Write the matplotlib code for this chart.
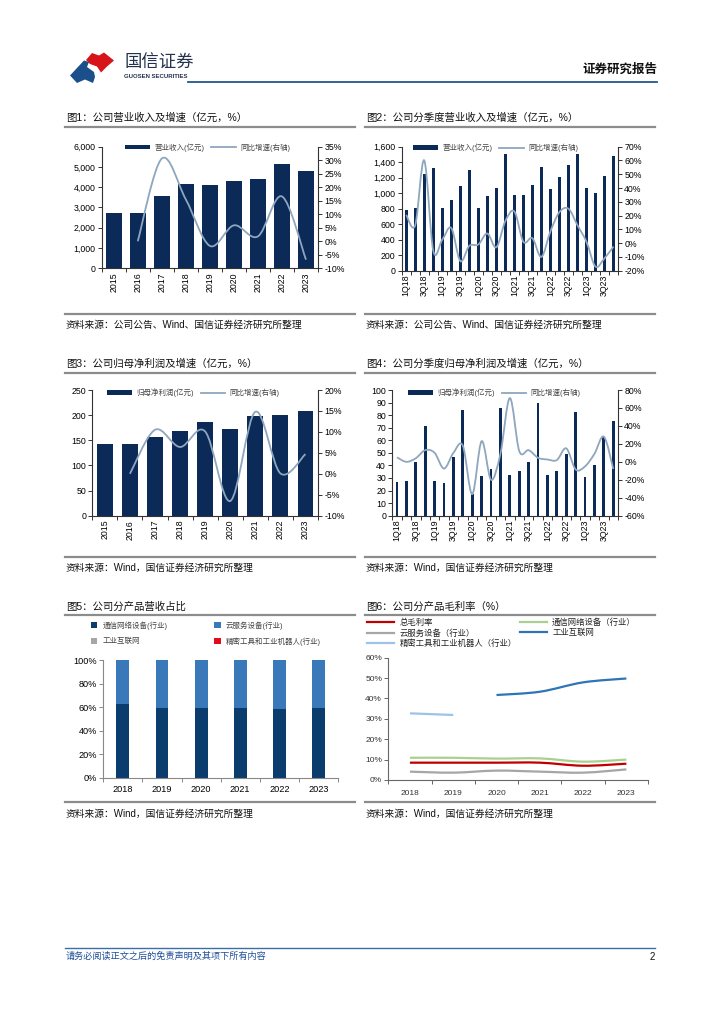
import numpy as np
import matplotlib
matplotlib.use("Agg")
import matplotlib.pyplot as plt
import matplotlib.patches as mpatches
from matplotlib.lines import Line2D
from matplotlib.path import Path
from matplotlib.ticker import FuncFormatter, MultipleLocator, FixedLocator

plt.rcParams['font.family'] = ['Liberation Sans', 'Noto Sans CJK SC', 'DejaVu Sans']
plt.rcParams['axes.unicode_minus'] = False

# ---------------- datos ----------------
anios = ['2015', '2016', '2017', '2018', '2019', '2020', '2021', '2022', '2023']
ingresos = [2712, 2712, 3567, 4159, 4093, 4323, 4422, 5145, 4784]
crec_ingresos = [np.nan, 0.0, 30.6, 15.5, -1.7, 5.9, 1.8, 16.6, -6.8]

trimestres = ['1Q18', '2Q18', '3Q18', '4Q18', '1Q19', '2Q19', '3Q19', '4Q19',
              '1Q20', '2Q20', '3Q20', '4Q20', '1Q21', '2Q21', '3Q21', '4Q21',
              '1Q22', '2Q22', '3Q22', '4Q22', '1Q23', '2Q23', '3Q23', '4Q23']
ingresos_trim = [777, 815, 1245, 1322, 807, 906, 1099, 1300, 807, 966, 1064, 1502,
                 978, 978, 1107, 1343, 1056, 1206, 1365, 1506, 1064, 1009, 1227, 1485]
crec_ingresos_trim = [20.5, 13.0, 60.0, -5.5, 2.5, 11.0, -13.0, -2.0, -1.0, 7.0, -3.0, 16.0,
                      23.0, 1.0, 3.6, -10.0, 8.5, 22.5, 25.0, 13.0, 1.0, -17.0, -11.0, -2.5]

beneficio = [142, 142, 157, 169, 186, 173, 198, 200, 209]
crec_beneficio = [np.nan, 0.0, 10.5, 6.4, 10.1, -6.5, 14.8, 0.1, 4.7]

beneficio_trim = [26.5, 28.0, 43.0, 71.0, 28.0, 26.0, 47.0, 84.0, 17.5, 31.6, 37.0, 86.0,
                  32.0, 35.5, 42.4, 90.0, 32.6, 35.8, 48.8, 82.8, 31.0, 40.3, 62.9, 75.6]
crec_beneficio_trim = [5.0, 0.0, 4.0, 13.0, 10.0, -7.5, 10.0, 18.0, -36.0, 23.0, -20.0, 9.0,
                       71.0, 12.0, 13.0, 4.5, 2.6, 2.0, 15.0, -8.6, -5.0, 9.0, 28.0, -8.0]

anios_prod = ['2018', '2019', '2020', '2021', '2022', '2023']
peso_comunicacion = [62.5, 59.5, 59.2, 59.2, 58.0, 59.2]
peso_nube = [37.1, 40.1, 40.5, 40.5, 41.7, 40.5]
peso_industrial = [0.0, 0.0, 0.3, 0.3, 0.3, 0.3]
peso_precision = [0.4, 0.4, 0.0, 0.0, 0.0, 0.0]

margen_total = [8.5, 8.5, 8.5, 8.5, 7.0, 8.0]
margen_comunicacion = [10.9, 10.9, 10.5, 10.6, 9.0, 10.0]
margen_nube = [4.1, 3.6, 4.6, 4.1, 3.6, 5.2]
margen_industrial = [np.nan, np.nan, 41.7, 43.3, 47.9, 49.8]
margen_precision = [32.7, 31.9, np.nan, np.nan, np.nan, np.nan]

# ---------------- estilos ----------------
W, H = 724, 1024
AZUL_BARRA = '#0c2a58'
LINEA = '#8ea6be'
GRIS_EJE = '#333333'
TICK_FS = 6.3


def fx(x):
    return x / W


def fy(y):
    return 1 - y / H


def rect(x0, y0, x1, y1):
    return [fx(x0), fy(y1), (x1 - x0) / W, (y1 - y0) / H]


def ruta_suave(xs, ys):
    """Curva suavizada (tipo Excel) que pasa por los puntos dados."""
    pts = np.array([(x, y) for x, y in zip(xs, ys) if not np.isnan(y)], dtype=float)
    n = len(pts)
    verts = [pts[0]]
    codes = [Path.MOVETO]
    for i in range(n - 1):
        p_prev = pts[i - 1] if i > 0 else pts[i]
        p_next = pts[i + 2] if i + 2 < n else pts[i + 1]
        c1 = pts[i] + (pts[i + 1] - p_prev) / 6.0
        c2 = pts[i + 1] - (p_next - pts[i]) / 6.0
        verts += [c1, c2, pts[i + 1]]
        codes += [Path.CURVE4] * 3
    return Path(verts, codes)


def grafico_combo(caja, cats, barras, crec, lim_izq, paso_izq, fmt_izq,
                  lim_der, paso_der, ancho, cada=1):
    ax = fig.add_axes(caja)
    x = np.arange(len(cats))
    ax.bar(x, barras, width=ancho, color=AZUL_BARRA, zorder=2)
    ax.set_xlim(-0.5, len(cats) - 0.5)
    ax.set_ylim(*lim_izq)
    ax.yaxis.set_major_locator(MultipleLocator(paso_izq))
    ax.yaxis.set_major_formatter(FuncFormatter(fmt_izq))
    ax.set_xticks(x)
    ax.set_xticklabels([c if i % cada == 0 else '' for i, c in enumerate(cats)],
                       rotation=90, fontsize=TICK_FS)
    ax.xaxis.set_minor_locator(FixedLocator(np.arange(-0.5, len(cats), 1.0)))
    ax.tick_params(axis='x', which='major', length=0, pad=3)
    ax.tick_params(axis='x', which='minor', length=3, width=0.7, color=GRIS_EJE)
    ax.tick_params(axis='y', labelsize=TICK_FS, length=3, width=0.7,
                   color=GRIS_EJE, pad=1.5)
    ax.tick_params(axis='x', labelsize=TICK_FS)
    for s in ['top', 'right']:
        ax.spines[s].set_visible(False)
    for s in ['left', 'bottom']:
        ax.spines[s].set_color(GRIS_EJE)
        ax.spines[s].set_linewidth(0.8)

    ax2 = ax.twinx()
    ax2.set_ylim(*lim_der)
    ax2.yaxis.set_major_locator(MultipleLocator(paso_der))
    ax2.yaxis.set_major_formatter(FuncFormatter(lambda v, p: f'{v:.0f}%'))
    ax2.tick_params(axis='y', labelsize=TICK_FS, length=3, width=0.7,
                    color=GRIS_EJE, pad=1.5)
    for s in ['top', 'left', 'bottom']:
        ax2.spines[s].set_visible(False)
    ax2.spines['right'].set_color(GRIS_EJE)
    ax2.spines['right'].set_linewidth(0.8)
    ax2.add_patch(mpatches.PathPatch(ruta_suave(x, crec), facecolor='none',
                                     edgecolor=LINEA, lw=1.3, zorder=3))
    return ax, ax2


def leyenda_combo(etq_barra, etq_linea, x0, y0):
    handles = [mpatches.Patch(facecolor=AZUL_BARRA, edgecolor='none'),
               Line2D([], [], color=LINEA, lw=1.3)]
    fig.legend(handles, [etq_barra, etq_linea], loc='center left',
               bbox_to_anchor=(fx(x0), fy(y0)), ncol=2, frameon=False,
               fontsize=5.4, handlelength=3.3, handleheight=0.55,
               handletextpad=0.6, columnspacing=0.9, borderpad=0,
               borderaxespad=0, labelcolor='#444444')


def cabecera_panel(x0, x1, y_tit, y_lin, titulo, y_src_lin, y_src, fuente):
    fig.text(fx(x0 + 1), fy(y_tit), titulo, fontsize=7.5, va='center', ha='left',
             color='#111111')
    fig.add_artist(Line2D([fx(x0), fx(x1)], [fy(y_lin), fy(y_lin)], color='#8c8c8c',
                          lw=1.6, transform=fig.transFigure))
    fig.add_artist(Line2D([fx(x0), fx(x1)], [fy(y_src_lin), fy(y_src_lin)],
                          color='#8c8c8c', lw=1.6, transform=fig.transFigure))
    fig.text(fx(x0 + 1), fy(y_src), fuente, fontsize=7.0, va='center', ha='left',
             color='#111111')


fig = plt.figure(figsize=(W / 100, H / 100), dpi=100)

# ---------------- cabecera de la pagina ----------------
logo_rojo = [(86, 60), (92, 53), (99, 55.5), (104, 52.5), (114, 60.5), (107, 66.5),
             (101, 72.5), (97, 66.5), (90, 64)]
logo_azul = [(70, 75.5), (84, 60.5), (89, 62), (87, 67), (94, 72), (95, 77), (93, 83),
             (85, 79.5), (77, 83)]
fig.add_artist(mpatches.Polygon([(fx(a), fy(b)) for a, b in logo_rojo], closed=True,
                                facecolor='#d7141a', edgecolor='none',
                                transform=fig.transFigure))
fig.add_artist(mpatches.Polygon([(fx(a), fy(b)) for a, b in logo_azul], closed=True,
                                facecolor='#1b4f8c', edgecolor='none',
                                transform=fig.transFigure))
fig.text(fx(124), fy(63), '国信证券', fontsize=12.5, color='#25324d', va='center',
         ha='left')
fig.text(fx(124.5), fy(76.5), 'GUOSEN SECURITIES', fontsize=4.3, color='#25324d',
         va='center', ha='left', fontweight='bold')
fig.text(fx(657), fy(69.5), '证券研究报告', fontsize=9, fontweight='bold', va='center',
         ha='right', color='#111111')
fig.add_artist(Line2D([fx(188), fx(657)], [fy(81.8), fy(81.8)], color='#24558f', lw=1.3,
                      transform=fig.transFigure))

# ---------------- figura 1 ----------------
cabecera_panel(65, 355, 117.7, 126.7, '图1：公司营业收入及增速（亿元，%）',
               314, 324.5, '资料来源：公司公告、Wind、国信证券经济研究所整理')
grafico_combo(rect(101.7, 146.7, 318, 268.3), anios, ingresos, crec_ingresos,
              (0, 6000), 1000, lambda v, p: f'{v:,.0f}', (-10, 35), 5, 0.68)
leyenda_combo('营业收入(亿元)', '同比增速(右轴)', 125, 147.5)

# ---------------- figura 2 ----------------
cabecera_panel(365, 655, 117.7, 126.7, '图2：公司分季度营业收入及增速（亿元，%）',
               314, 324.5, '资料来源：公司公告、Wind、国信证券经济研究所整理')
grafico_combo(rect(401.7, 146.7, 618, 270.7), trimestres, ingresos_trim,
              crec_ingresos_trim, (0, 1600), 200, lambda v, p: f'{v:,.0f}',
              (-20, 70), 10, 0.33, cada=2)
leyenda_combo('营业收入(亿元)', '同比增速(右轴)', 413, 148)

# ---------------- figura 3 ----------------
cabecera_panel(65, 355, 363.3, 373.3, '图3：公司归母净利润及增速（亿元，%）',
               556.7, 568.3, '资料来源：Wind，国信证券经济研究所整理')
grafico_combo(rect(92.3, 390, 318, 515.7), anios, beneficio, crec_beneficio,
              (0, 250), 50, lambda v, p: f'{v:.0f}', (-10, 20), 5, 0.63)
leyenda_combo('归母净利润(亿元)', '同比增速(右轴)', 107, 392.7)

# ---------------- figura 4 ----------------
cabecera_panel(365, 655, 363.3, 373.3, '图4：公司分季度归母净利润及增速（亿元，%）',
               556.7, 568.3, '资料来源：Wind，国信证券经济研究所整理')
grafico_combo(rect(392.3, 390, 618, 515.7), trimestres, beneficio_trim,
              crec_beneficio_trim, (0, 100), 10, lambda v, p: f'{v:.0f}',
              (-60, 80), 20, 0.3, cada=2)
leyenda_combo('归母净利润(亿元)', '同比增速(右轴)', 408, 392.7)

# ---------------- figura 5 ----------------
cabecera_panel(65, 355, 606.7, 615, '图5：公司分产品营收占比',
               802.3, 814, '资料来源：Wind，国信证券经济研究所整理')
ax5 = fig.add_axes(rect(103.3, 660, 338, 777.7))
x5 = np.arange(len(anios_prod))
col5 = ['#0b3c6e', '#3a79b9', '#a6a6a6', '#e00b1c']
series5 = [peso_comunicacion, peso_nube, peso_industrial, peso_precision]
etq5 = ['通信网络设备(行业)', '云服务设备(行业)', '工业互联网', '精密工具和工业机器人(行业)']
base = np.zeros(len(anios_prod))
for vals, c in zip(series5, col5):
    ax5.bar(x5, vals, bottom=base, width=0.33, color=c, zorder=2)
    base = base + np.array(vals)
ax5.set_xlim(-0.5, len(anios_prod) - 0.5)
ax5.set_ylim(0, 100)
ax5.yaxis.set_major_locator(MultipleLocator(20))
ax5.yaxis.set_major_formatter(FuncFormatter(lambda v, p: f'{v:.0f}%'))
ax5.set_xticks(x5)
ax5.set_xticklabels(anios_prod)
ax5.xaxis.set_minor_locator(FixedLocator(np.arange(-0.5, len(anios_prod), 1.0)))
ax5.tick_params(axis='x', which='major', length=0, pad=5, labelsize=TICK_FS + 0.3)
ax5.tick_params(axis='x', which='minor', length=3, width=0.7, color='#888888')
ax5.tick_params(axis='y', labelsize=TICK_FS + 0.3, length=3, width=0.7,
                color='#888888', pad=1.5)
for s in ['top', 'right']:
    ax5.spines[s].set_visible(False)
for s in ['left', 'bottom']:
    ax5.spines[s].set_color('#888888')
    ax5.spines[s].set_linewidth(0.8)
orden5 = [0, 2, 1, 3]
fig.legend([mpatches.Patch(facecolor=col5[i]) for i in orden5], [etq5[i] for i in orden5],
           loc='upper left', bbox_to_anchor=(fx(91), fy(621.5)), ncol=2, frameon=False,
           fontsize=5.4, handlelength=0.85, handleheight=0.85, handletextpad=0.7,
           columnspacing=6.2, labelspacing=1.0, borderpad=0, borderaxespad=0,
           labelcolor='#444444')

# ---------------- figura 6 ----------------
cabecera_panel(365, 655, 606.7, 615, '图6：公司分产品毛利率（%）',
               802.3, 814, '资料来源：Wind，国信证券经济研究所整理')
ax6 = fig.add_axes(rect(388.3, 657.7, 648, 780))
x6 = np.arange(len(anios_prod))
series6 = [margen_total, margen_comunicacion, margen_nube, margen_industrial,
           margen_precision]
col6 = ['#c00000', '#a9d08e', '#a6a6a6', '#2e75b6', '#9dc3e6']
etq6 = ['总毛利率', '通信网络设备（行业）', '云服务设备（行业）', '工业互联网',
        '精密工具和工业机器人（行业）']
for vals, c in zip(series6, col6):
    ax6.add_patch(mpatches.PathPatch(ruta_suave(x6, vals), facecolor='none',
                                     edgecolor=c, lw=1.6, zorder=3))
ax6.set_xlim(-0.5, len(anios_prod) - 0.5)
ax6.set_ylim(0, 60)
ax6.yaxis.set_major_locator(MultipleLocator(10))
ax6.yaxis.set_major_formatter(FuncFormatter(lambda v, p: f'{v:.0f}%'))
ax6.set_xticks(x6)
ax6.set_xticklabels(anios_prod)
ax6.xaxis.set_minor_locator(FixedLocator(np.arange(-0.5, len(anios_prod), 1.0)))
ax6.tick_params(axis='x', which='major', length=0, pad=7, labelsize=TICK_FS - 0.3,
                labelcolor='#333333')
ax6.tick_params(axis='x', which='minor', length=3, width=0.7, color='#666666')
ax6.tick_params(axis='y', labelsize=TICK_FS - 0.3, length=3, width=0.7,
                color='#666666', pad=1.5, labelcolor='#333333')
for s in ['top', 'right']:
    ax6.spines[s].set_visible(False)
for s in ['left', 'bottom']:
    ax6.spines[s].set_color('#666666')
    ax6.spines[s].set_linewidth(0.8)
orden6 = [0, 2, 4, 1, 3]
fig.legend([Line2D([], [], color=col6[i], lw=1.6) for i in orden6],
           [etq6[i] for i in orden6], loc='upper left',
           bbox_to_anchor=(fx(367), fy(618.5)), ncol=2, frameon=False, fontsize=6.0,
           handlelength=3.3, handletextpad=0.6, columnspacing=0.35, labelspacing=0.22,
           borderpad=0, borderaxespad=0, labelcolor='#222222')

# ---------------- pie de pagina ----------------
fig.add_artist(Line2D([fx(65), fx(655)], [fy(948.3), fy(948.3)], color='#3d6ea6', lw=1.0,
                      transform=fig.transFigure))
fig.text(fx(66), fy(956.5), '请务必阅读正文之后的免责声明及其项下所有内容', fontsize=6.6,
         style='italic', color='#1f4e9a', va='center', ha='left')
fig.text(fx(655), fy(957), '2', fontsize=7, color='#111111', va='center', ha='right')

fig.savefig('out.png', dpi=100)
